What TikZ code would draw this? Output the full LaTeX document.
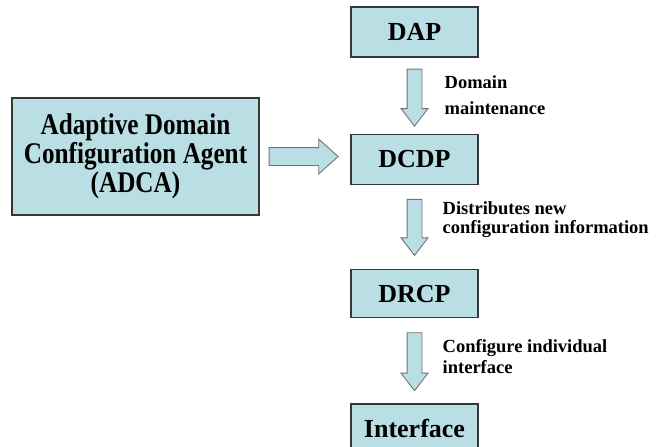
\documentclass[tikz,border=0pt]{standalone}
\usepackage{fontspec}
\newfontfamily\serifbold{Liberation Serif Bold}
\newfontfamily\tallfont{Liberation Serif Bold}[FakeStretch=0.84]
\usetikzlibrary{shapes.arrows, positioning}

\definecolor{boxfill}{RGB}{185,222,228}
\definecolor{boxline}{RGB}{55,55,55}
\definecolor{arrowline}{RGB}{115,115,115}

\begin{document}
\begin{tikzpicture}[
    x=1pt, y=-1pt,
    every node/.style={font=\serifbold},
    block/.style={
        rectangle, draw=boxline, line width=1.3pt, fill=boxfill,
        align=center, inner sep=0pt,
        minimum width=127pt, minimum height=50pt,
        font=\serifbold\fontsize{26}{29}\selectfont
    },
    blockarrow/.style={
        single arrow, draw=arrowline, line width=0.9pt, fill=boxfill,
        inner xsep=0pt, inner ysep=7pt,
        single arrow head extend=6pt, single arrow tip angle=75,
        anchor=tail
    },
    note/.style={align=left, anchor=west, inner sep=0pt}
]
\useasboundingbox (0,0) rectangle (662,447);

% --- Boxes ---
\node[block] (DAP) at (414.5,32) {DAP};
\node[block, below=76pt of DAP] (DCDP) {DCDP};
\node[block, below=84pt of DCDP, minimum height=48pt] (DRCP) {DRCP};
\node[block, below=85pt of DRCP] (Iface) {Interface};
\node[block, minimum width=247pt, minimum height=117pt,
      font=\tallfont\fontsize{30}{29}\selectfont] (ADCA) at (135.5,156.5)
      {Adaptive Domain\\Configuration Agent\\(ADCA)};

% --- Block arrows ---
\node[blockarrow, inner ysep=8.5pt, single arrow head extend=8.5pt,
      single arrow tip angle=84, minimum height=69pt] (A0) at ([xshift=9pt]ADCA.east) {};
\node[blockarrow, rotate=-90, minimum height=57pt] (A1) at ([yshift=-11pt]DAP.south) {};
\node[blockarrow, rotate=-90, minimum height=56pt] (A2) at ([yshift=-14pt]DCDP.south) {};
\node[blockarrow, rotate=-90, minimum height=58pt] (A3) at ([yshift=-14pt]DRCP.south) {};

% --- Arrow labels ---
\node[note, font=\serifbold\fontsize{18.5}{26}\selectfont] (N1)
      at ([xshift=30pt, yshift=-2.5pt]A1.center) {Domain\\maintenance};
\node[note, font=\serifbold\fontsize{18.5}{19}\selectfont] (N2)
      at ([xshift=28pt, yshift=2.5pt]A2.center) {Distributes new\\configuration information};
\node[note, font=\serifbold\fontsize{18.5}{21}\selectfont] (N3)
      at ([xshift=28pt]A3.center) {Configure individual\\interface};

\end{tikzpicture}
\end{document}
